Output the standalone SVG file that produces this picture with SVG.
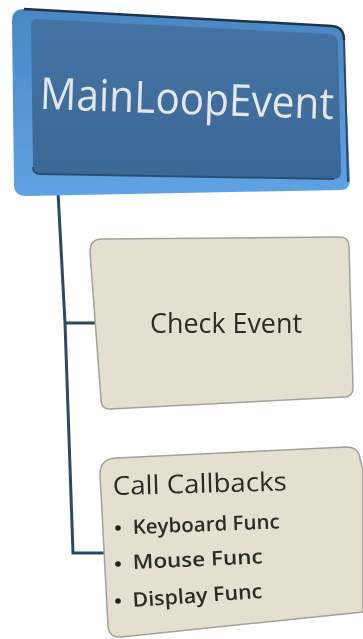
<svg xmlns="http://www.w3.org/2000/svg" width="363" height="639" viewBox="0 0 363 639">
  <defs>
    <style>
      .title { font-family: "Open Sans", "Liberation Sans", sans-serif; fill: #e2e7eb; }
      .label { font-family: "Open Sans", "Liberation Sans", sans-serif; fill: #2b2b27; }
      .card { fill: #e4dfd1; stroke: #a3a398; stroke-width: 1.5; }
      .wire { fill: none; stroke: #2b4868; stroke-width: 3; stroke-linejoin: miter; }
    </style>
    <linearGradient id="bevel" x1="0" y1="0" x2="0" y2="1">
      <stop offset="0" stop-color="#4a86c4"/>
      <stop offset="1" stop-color="#5fa3e4"/>
    </linearGradient>
    <linearGradient id="face" x1="0" y1="0" x2="0" y2="1">
      <stop offset="0" stop-color="#4473a3"/>
      <stop offset="1" stop-color="#3c6896"/>
    </linearGradient>
    <filter id="soft" x="-10%" y="-10%" width="120%" height="120%">
      <feGaussianBlur stdDeviation="0.6"/>
    </filter>
  </defs>

  <rect width="363" height="639" fill="#ffffff"/>

  <!-- connectors -->
  <g id="connectors">
    <polyline class="wire" points="58,192 65,323 73,553 110,553"/>
    <line class="wire" x1="65" y1="323" x2="100" y2="323"/>
  </g>

  <!-- root node -->
  <g id="main-loop-event" filter="url(#soft)">
    <path d="M24,9 L332,26 Q344,27 344,40 L350,180 Q350,190 340,190 L26,196 Q14,196 14,184 L12,21 Q12,9 24,9 Z" fill="url(#bevel)"/>
    <path d="M24,9 L332,26 Q344,27 344,40" fill="none" stroke="#1f344c" stroke-width="2.5"/>
    <path d="M344,40 L348,182" fill="none" stroke="#2a4a6e" stroke-width="2"/>
    <path d="M36,19 L330,34 Q338,35 338,43 L341,172 Q341,179 334,179 L40,174 Q33,174 33,167 L31,26 Q31,19 36,19 Z" fill="url(#face)"/>
    <path d="M33,167 Q33,174 40,174 L334,179" fill="none" stroke="#2c4f75" stroke-width="2"/>
    <text class="title" x="187" y="114" font-size="44" text-anchor="middle" textLength="294" lengthAdjust="spacingAndGlyphs" transform="rotate(2 187 100)">MainLoopEvent</text>
  </g>

  <!-- first child -->
  <g id="check-event" filter="url(#soft)">
    <path class="card" d="M102,239 L340,237 Q349,237 349,247 L353,388 Q353,397 344,397 L110,409 Q101,409 101,400 L90,252 Q90,239 102,239 Z"/>
    <text class="label" x="226" y="333" font-size="27" text-anchor="middle" textLength="152" lengthAdjust="spacingAndGlyphs">Check Event</text>
  </g>

  <!-- second child -->
  <g id="call-callbacks" filter="url(#soft)">
    <path class="card" d="M116,458 L346,447 Q359,447 360,459 L363,470 L363,612 L121,637 Q109,638 108,626 L100,474 Q100,459 116,458 Z"/>
    <text class="label" x="113" y="495" font-size="26" textLength="174" lengthAdjust="spacingAndGlyphs" transform="rotate(-1.5 113 495)">Call Callbacks</text>
    <circle cx="118" cy="528" r="2.8" fill="#222"/>
    <circle cx="118" cy="564" r="2.8" fill="#222"/>
    <circle cx="118" cy="601" r="2.8" fill="#222"/>
    <text class="label" x="133" y="534" font-size="20" font-weight="600" textLength="147" lengthAdjust="spacingAndGlyphs" transform="rotate(-2.2 133 534)">Keyboard Func</text>
    <text class="label" x="133" y="569" font-size="20" font-weight="600" textLength="130" lengthAdjust="spacingAndGlyphs" transform="rotate(-2.5 133 569)">Mouse Func</text>
    <text class="label" x="133" y="607" font-size="20" font-weight="600" textLength="130" lengthAdjust="spacingAndGlyphs" transform="rotate(-4 133 607)">Display Func</text>
  </g>
</svg>
